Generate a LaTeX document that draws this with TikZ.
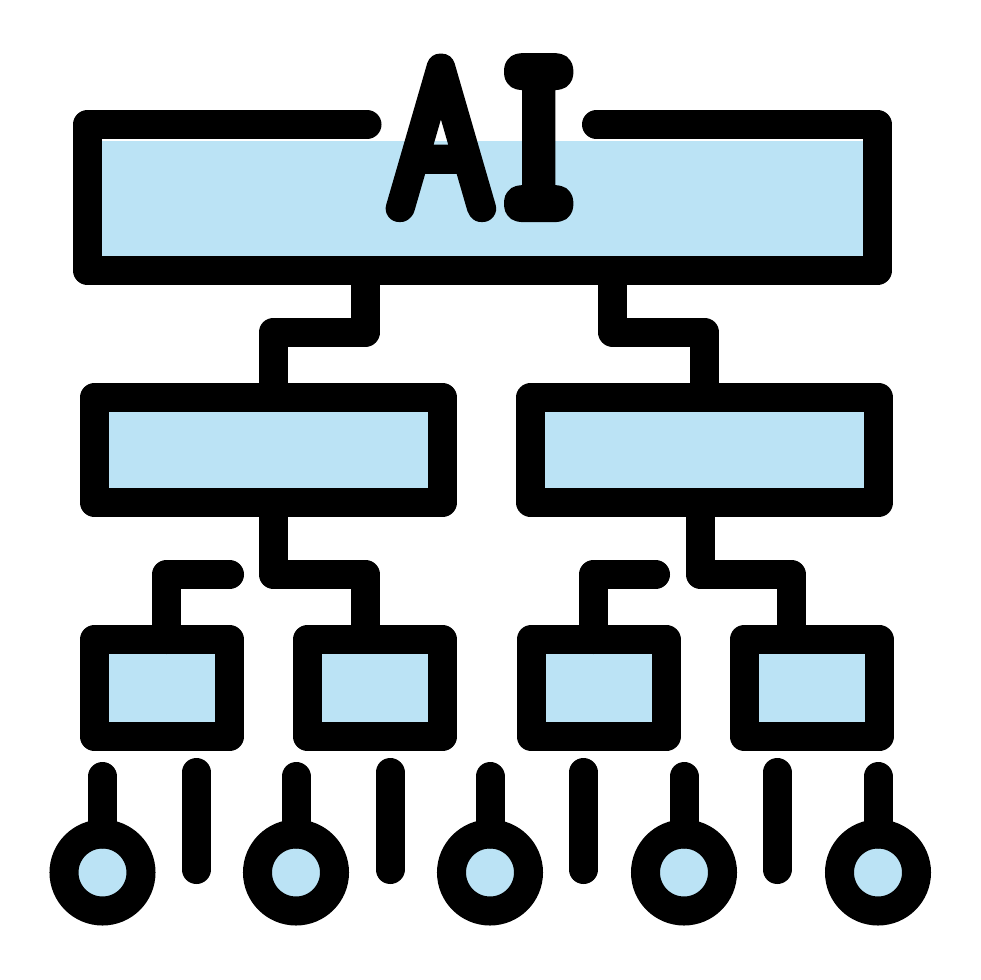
\documentclass[tikz,border=0pt]{standalone}
\usepackage{fontspec}
\newfontfamily\afont[FakeStretch=0.695]{Lato Hairline}
\newfontfamily\ifont[FakeStretch=0.51]{Latin Modern Mono Light}
\definecolor{fillb}{HTML}{BBE3F5}
\tikzset{
  ln/.style={line width=29pt,line cap=round,line join=round,draw=black},
  wire/.style={ln,line cap=butt},
  panel/.style={fill=fillb,draw=none},
  box/.style={rectangle,draw=black,fill=fillb,line width=29pt,line join=round,inner sep=0pt,outer sep=0pt},
  midbox/.style={box,minimum width=348pt,minimum height=105pt},
  smallbox/.style={box,minimum width=135pt,minimum height=97pt},
  disc/.style={circle,draw=black,fill=fillb,line width=29pt,inner sep=0pt,outer sep=0pt,minimum size=77pt},
}
\begin{document}
\begin{tikzpicture}[x=1pt,y=-1pt]
\useasboundingbox (0,0) rectangle (980,980);
\fill[panel] (102,141) rectangle (863,256);
\coordinate (tl) at (367,124.5);\coordinate (tr) at (596.5,124.5);
\draw[ln] (tl) -- (87.5,124.5) -- (87.5,270.5) -- (877.5,270.5) -- (877.5,124.5) -- (tr);
\coordinate (topA) at (365.5,270.5);\coordinate (topB) at (612.5,270.5);
% boxes
\node[midbox] (m1) at (268.5,450) {};
\node[midbox] (m2) at (704.8,450) {};
\node[smallbox] (s1) at (162,688) {};
\node[smallbox] (s2) at (375,688) {};
\node[smallbox] (s3) at (598.5,688) {};
\node[smallbox] (s4) at (811.5,688) {};
% connectors
\draw[wire] (topA) -- (365.5,332) -- (273.5,332) -- (273.5,397.5);
\draw[wire] (topB) -- (612.5,332) -- (704.5,332) -- (704.5,397.5);
\draw[wire] (273.5,502.5) -- (273.5,574.5) -- (365.5,574.5) -- (365.5,639.5);
\draw[wire] (700.5,502.5) -- (700.5,574.5) -- (791.5,574.5) -- (791.5,639.5);
\coordinate (c1) at (229.5,574.5);\coordinate (c2) at (655.5,574.5);
\draw[ln] (166.5,639.5) -- (166.5,574.5) -- (c1);
\draw[ln] (593.5,639.5) -- (593.5,574.5) -- (c2);
% pins
\foreach \n/\x in {1/102.5,2/296,3/490,4/684,5/878}{
  \node[disc] (d\n) at (\x,872.5) {};
  \coordinate (p\n) at (\x,776.5);
  \draw[ln,line cap=round] (p\n) -- (d\n.north);
}
\foreach \n/\x in {1/196.3,2/390,3/583.5,4/777}{
  \coordinate (ua\n) at (\x,772.5);\coordinate (ub\n) at (\x,869.5);
  \draw[ln] (ua\n) -- (ub\n);
}
% text
\node[inner sep=0pt,anchor=base west] (ai) at (396,208.5) {\special{pdf:code q 2 Tr 27 w 1 J 1 j}\afont\fontsize{202}{202}\selectfont A\kern 22pt\ifont\fontsize{232}{232}\selectfont I\special{pdf:code Q}};
\end{tikzpicture}
\end{document}
